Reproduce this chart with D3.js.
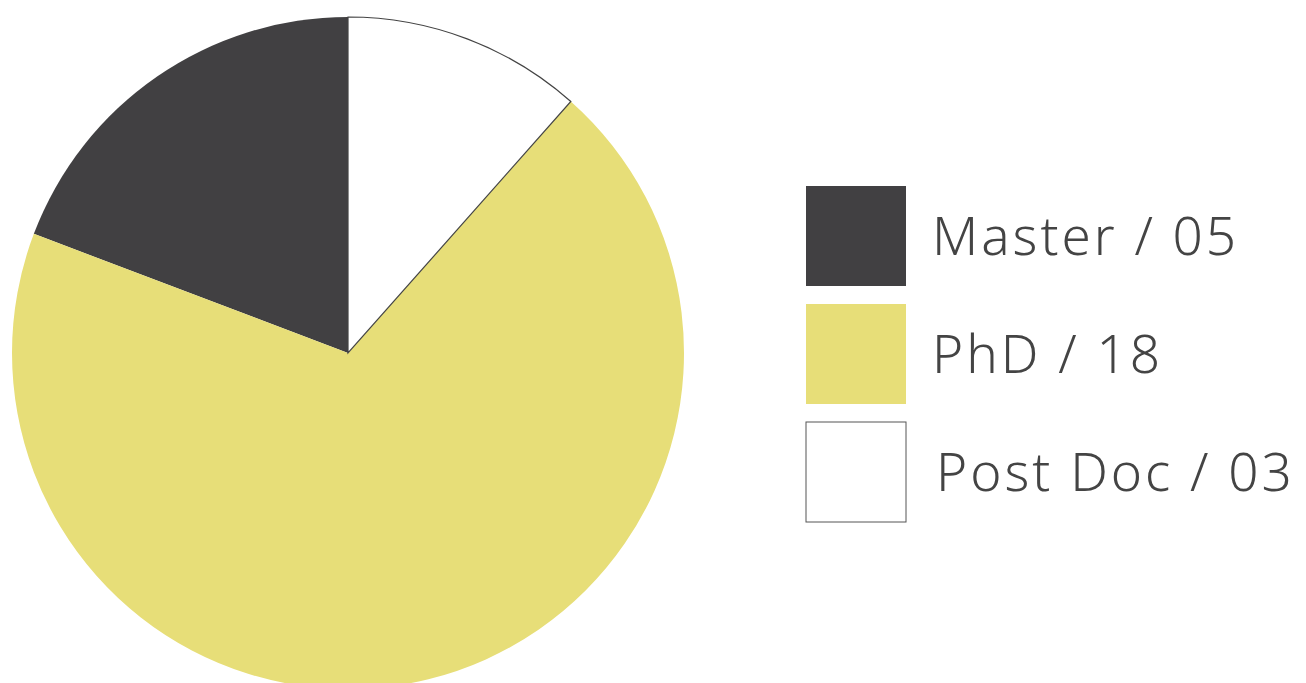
<!DOCTYPE html>
<html><head><meta charset="utf-8">
<script src="https://cdn.jsdelivr.net/npm/d3@7"></script>
<style>html,body{margin:0;padding:0;background:#fff;overflow:hidden}</style>
</head><body>
<svg id="c" width="1306" height="683"></svg>
<script>
const categories = ["Master", "PhD", "Post Doc"];
const values = [5, 18, 3];
const labels = ["Master / 05", "PhD / 18", "Post Doc / 03"];
const colors = ["#414042", "#e7de78", "#ffffff"];
const strokes = ["none", "none", "#444"];

const svg = d3.select("#c");
const cx = 348, cy = 353, r = 336;
const data = categories.map((c, i) => ({c, v: values[i], i}));
const pie = d3.pie().value(d => d.v).sort(null).startAngle(2 * Math.PI).endAngle(0);
const arc = d3.arc().innerRadius(0).outerRadius(r);
const g = svg.append("g").attr("transform", `translate(${cx},${cy})`);
g.selectAll("path").data(pie(data)).join("path")
  .attr("d", arc)
  .attr("fill", d => colors[d.data.i])
  .attr("stroke", d => strokes[d.data.i])
  .attr("stroke-width", 1.2);

const lg = svg.append("g");
const y = d3.scalePoint().domain(categories).range([236, 472]);
const items = lg.selectAll("g").data(data).join("g")
  .attr("transform", d => `translate(806,${y(d.c)})`);
items.append("rect").attr("x", 0).attr("y", -50).attr("width", 100).attr("height", 100)
  .attr("fill", d => colors[d.i]).attr("stroke", d => d.i === 2 ? "#555" : "none").attr("stroke-width", 1);
items.append("text").attr("x", d => d.i === 2 ? 130 : 126).attr("y", 19)
  .attr("font-family", "'Noto Sans', sans-serif")
  .attr("font-weight", 300)
  .attr("font-size", 53).attr("fill", "#444")
  .attr("letter-spacing", 3)
  .text(d => labels[d.i]);
</script>
</body></html>
